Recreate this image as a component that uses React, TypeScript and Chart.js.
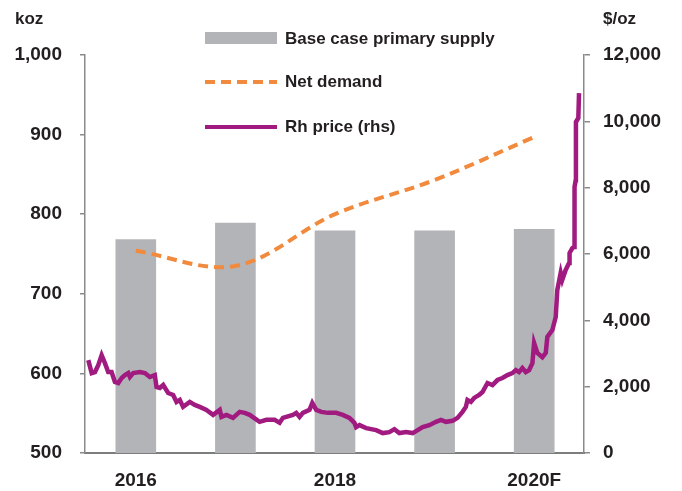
import React, { useEffect, useRef } from "react";
import { Chart, registerables } from "chart.js";

Chart.register(...registerables);

const years = [2016, 2017, 2018, 2019, 2020];
const supply = [768, 789, 779, 779, 781];
const netDemand = [754, 735, 800, 843, 897];
const xTickYears = [2016, 2018, 2020];
const xTickLabels = ["2016", "2018", "2020F"];

const priceDates = [
  2015.523, 2015.557, 2015.59, 2015.623, 2015.657, 2015.69, 2015.723, 2015.757, 2015.79, 2015.824,
  2015.858, 2015.891, 2015.924, 2015.941, 2015.974, 2016.041, 2016.091, 2016.141, 2016.191, 2016.208,
  2016.241, 2016.275, 2016.325, 2016.375, 2016.409, 2016.442, 2016.475, 2016.542, 2016.592, 2016.642,
  2016.709, 2016.776, 2016.843, 2016.86, 2016.91, 2016.976, 2017.043, 2017.093, 2017.143, 2017.243,
  2017.311, 2017.394, 2017.444, 2017.477, 2017.577, 2017.611, 2017.644, 2017.677, 2017.744, 2017.772,
  2017.812, 2017.862, 2017.928, 2018.012, 2018.078, 2018.145, 2018.195, 2018.212, 2018.246, 2018.313,
  2018.413, 2018.479, 2018.546, 2018.596, 2018.646, 2018.713, 2018.78, 2018.83, 2018.88, 2018.947,
  2019.014, 2019.064, 2019.114, 2019.18, 2019.23, 2019.28, 2019.314, 2019.33, 2019.364, 2019.397,
  2019.447, 2019.481, 2019.531, 2019.581, 2019.631, 2019.681, 2019.731, 2019.781, 2019.815, 2019.848,
  2019.881, 2019.915, 2019.949, 2019.982, 2019.999, 2020.032, 2020.082, 2020.116, 2020.132, 2020.182,
  2020.216, 2020.232, 2020.266, 2020.282, 2020.316, 2020.35, 2020.355, 2020.383, 2020.4, 2020.403,
  2020.407, 2020.417, 2020.419, 2020.443, 2020.45,
];
const priceValues = [
  2800, 2410, 2440, 2650, 2950, 2710, 2440, 2440, 2140, 2110,
  2260, 2350, 2410, 2290, 2410, 2440, 2410, 2290, 2350, 1990,
  1960, 2050, 1810, 1750, 1540, 1600, 1390, 1540, 1450, 1390,
  1300, 1150, 1300, 1090, 1150, 1060, 1240, 1210, 1150, 940,
  1000, 1000, 910, 1060, 1150, 1210, 1090, 1210, 1300, 1510,
  1300, 1240, 1210, 1210, 1150, 1060, 910, 780, 840, 750,
  690, 600, 630, 720, 600, 630, 600, 690, 780, 840,
  940, 1000, 940, 970, 1060, 1240, 1390, 1600, 1540, 1660,
  1750, 1840, 2110, 2050, 2200, 2260, 2350, 2410, 2500, 2440,
  2560, 2440, 2500, 2710, 3320, 3020, 2890, 3020, 3500, 3710,
  4100, 4910, 5430, 5220, 5520, 5730, 6030, 6180, 6210, 7120,
  8020, 8230, 9980, 10100, 10850,
];

const FONT = "'Liberation Sans', Arial, sans-serif";
const TEXT = "#231f20";
const AXIS = "#8a8a8a";
const BAR = "#b3b4b7";
const ORANGE = "#f28a3d";
const PURPLE = "#a11a80";

const overlay = {
  id: "overlay",
  afterDraw(chart: any) {
    const ctx = chart.ctx;
    ctx.save();
    ctx.fillStyle = TEXT;
    ctx.textBaseline = "middle";
    ctx.textAlign = "left";
    ctx.font = `bold 17px ${FONT}`;
    ctx.fillText("koz", 15, 19);
    ctx.fillText("$/oz", 603, 19);

    ctx.font = `bold 17px ${FONT}`;
    ctx.fillStyle = BAR;
    ctx.fillRect(205, 32, 72, 12);
    ctx.fillStyle = TEXT;
    ctx.fillText("Base case primary supply", 285, 39);

    ctx.strokeStyle = ORANGE;
    ctx.lineWidth = 4;
    ctx.setLineDash([10, 6]);
    ctx.beginPath();
    ctx.moveTo(205, 82);
    ctx.lineTo(277, 82);
    ctx.stroke();
    ctx.setLineDash([]);
    ctx.fillText("Net demand", 285, 82);

    ctx.strokeStyle = PURPLE;
    ctx.beginPath();
    ctx.moveTo(205, 127);
    ctx.lineTo(277, 127);
    ctx.stroke();
    ctx.fillText("Rh price (rhs)", 285, 127);
    ctx.restore();
  },
};

export default function App() {
  const ref = useRef<HTMLCanvasElement>(null);
  useEffect(() => {
    document.body.style.margin = "0";
    const chart = new Chart(ref.current!, {
      type: "bar",
      data: {
        datasets: [
          {
            type: "line",
            label: "Rh price (rhs)",
            data: priceDates.map((d, i) => ({ x: d, y: priceValues[i] })),
            yAxisID: "y1",
            borderColor: PURPLE,
            borderWidth: 4.5,
            pointRadius: 0,
            tension: 0,
            order: 0,
          } as any,
          {
            type: "line",
            label: "Net demand",
            data: years.map((y, i) => ({ x: y, y: netDemand[i] })),
            yAxisID: "y",
            borderColor: ORANGE,
            borderWidth: 4,
            borderDash: [10, 6],
            pointRadius: 0,
            tension: 0.35,
            order: 1,
          } as any,
          {
            type: "bar",
            label: "Base case primary supply",
            data: years.map((y, i) => ({ x: y, y: supply[i] })),
            yAxisID: "y",
            backgroundColor: BAR,
            barThickness: 40,
            order: 2,
          } as any,
        ],
      },
      options: {
        animation: false,
        responsive: false,
        maintainAspectRatio: false,
        layout: { padding: { top: 55, left: 0, right: 0, bottom: 0 } },
        plugins: { legend: { display: false }, tooltip: { enabled: false } },
        scales: {
          x: {
            type: "linear",
            offset: false,
            min: 2015.49,
            max: 2020.5,
            afterBuildTicks: (s: any) => {
              s.ticks = xTickYears.map((v) => ({ value: v }));
            },
            afterFit: (s: any) => {
              s.height = 38;
            },
            grid: { drawOnChartArea: false, drawTicks: false, offset: false },
            border: { display: true, color: "#7d7d7d", width: 2 },
            ticks: {
              color: TEXT,
              font: { family: FONT, size: 19, weight: "bold" },
              padding: 16,
              maxRotation: 0,
              callback: (v: any) => {
                const i = xTickYears.indexOf(Number(v));
                return i >= 0 ? xTickLabels[i] : "";
              },
            },
          },
          y: {
            type: "linear",
            position: "left",
            min: 500,
            max: 1000,
            afterFit: (s: any) => {
              s.width = 85;
            },
            grid: { drawOnChartArea: false, drawTicks: true, tickLength: 5, color: AXIS, lineWidth: 1.5 },
            border: { display: true, color: AXIS, width: 1.5 },
            ticks: {
              stepSize: 100,
              color: TEXT,
              padding: 18,
              font: { family: FONT, size: 19, weight: "bold" },
              callback: (v: any) => Number(v).toLocaleString("en-US"),
            },
          },
          y1: {
            type: "linear",
            position: "right",
            min: 0,
            max: 12000,
            afterFit: (s: any) => {
              s.width = 98;
            },
            grid: { drawOnChartArea: false, drawTicks: true, tickLength: 6, color: AXIS, lineWidth: 1.5 },
            border: { display: true, color: AXIS, width: 1.5 },
            ticks: {
              stepSize: 2000,
              color: TEXT,
              padding: 13,
              font: { family: FONT, size: 19, weight: "bold" },
              callback: (v: any) => Number(v).toLocaleString("en-US"),
            },
          },
        },
      },
      plugins: [overlay],
    });
    return () => chart.destroy();
  }, []);
  return (
    <div style={{ position: "absolute", left: 0, top: 0, width: 682, height: 491 }}>
      <canvas ref={ref} width={682} height={491} style={{ width: 682, height: 491 }} />
    </div>
  );
}
